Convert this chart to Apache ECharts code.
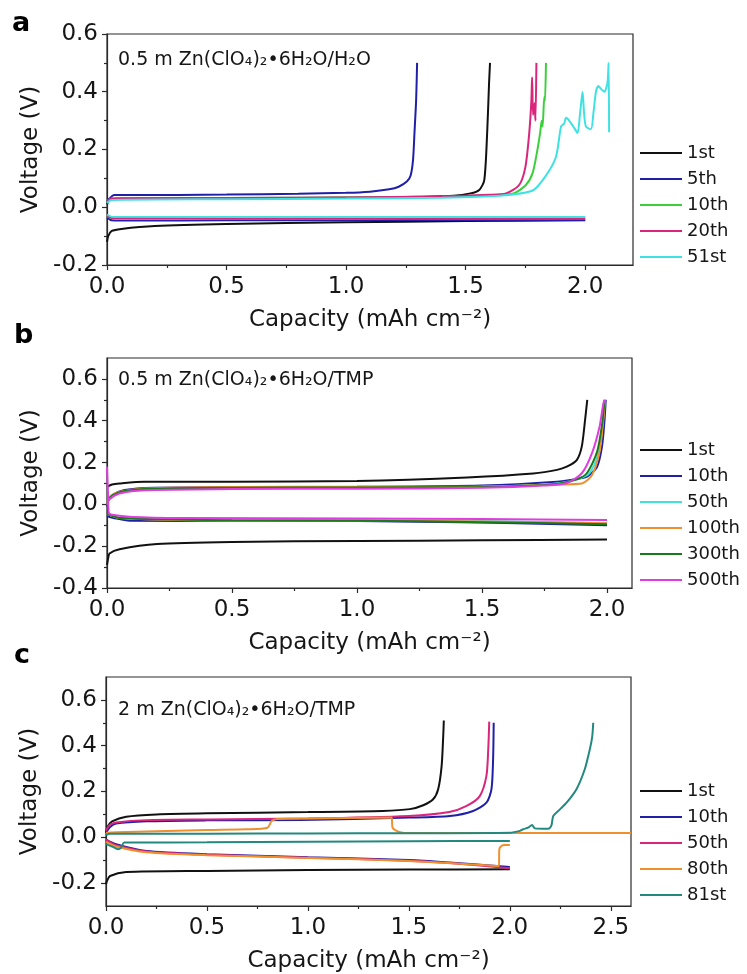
<!DOCTYPE html>
<html>
<head>
<meta charset="utf-8">
<script src="https://cdn.jsdelivr.net/npm/echarts@6/dist/echarts.min.js"></script>
<style>html,body{margin:0;padding:0;background:#fff}#c{width:747px;height:974px}</style>
</head>
<body>
<div id="c"></div>
<script>
// ---------- Panel a : 0.5 m Zn(ClO4)2·6H2O/H2O ----------
var aNames = ['1st', '5th', '10th', '20th', '51st'];
var a1stChg = [[0,0.01],[0.01,0.025],[0.05,0.03],[0.3,0.03],[0.8,0.032],[1.2,0.035],[1.45,0.04],[1.52,0.048],[1.557,0.06],[1.578,0.094],[1.59,0.257],[1.598,0.43],[1.602,0.5]];
var a1stDis = [[0,-0.12],[0.005,-0.1],[0.02,-0.082],[0.06,-0.075],[0.2,-0.065],[0.5,-0.058],[1.0,-0.052],[1.5,-0.048],[2.0,-0.045]];
var a5thChg = [[0,0.02],[0.01,0.03],[0.03,0.042],[0.1,0.042],[0.5,0.044],[0.8,0.047],[1.0,0.05],[1.1,0.054],[1.18,0.062],[1.22,0.071],[1.255,0.09],[1.27,0.11],[1.28,0.164],[1.286,0.257],[1.293,0.372],[1.297,0.5]];
var a5thDis = [[0,-0.035],[0.02,-0.045],[0.1,-0.046],[0.5,-0.045],[1.0,-0.045],[1.5,-0.044],[2.0,-0.044]];
var a10thChg = [[0,0.02],[0.02,0.03],[0.5,0.032],[1.0,0.034],[1.4,0.036],[1.6,0.042],[1.7,0.048],[1.752,0.077],[1.78,0.118],[1.8,0.198],[1.812,0.26],[1.818,0.3],[1.822,0.28],[1.829,0.383],[1.832,0.37],[1.836,0.5]];
var a10thDis = [[0,-0.03],[0.02,-0.038],[0.5,-0.039],[1.0,-0.039],[1.5,-0.039],[2.0,-0.039]];
var a20thChg = [[0,0.02],[0.02,0.03],[0.5,0.032],[1.0,0.034],[1.4,0.037],[1.6,0.043],[1.669,0.048],[1.724,0.077],[1.75,0.14],[1.766,0.257],[1.775,0.37],[1.778,0.45],[1.782,0.32],[1.788,0.36],[1.792,0.3],[1.796,0.5]];
var a20thDis = [[0,-0.03],[0.02,-0.037],[1.0,-0.038],[2.0,-0.038]];
var a51stChg = [[0,0.015],[0.02,0.025],[0.5,0.028],[1.0,0.03],[1.4,0.033],[1.64,0.04],[1.78,0.058],[1.836,0.11],[1.878,0.175],[1.899,0.28],[1.912,0.29],[1.92,0.31],[1.933,0.3],[1.954,0.275],[1.968,0.257],[1.978,0.32],[1.989,0.4],[1.995,0.33],[2.003,0.28],[2.024,0.27],[2.035,0.33],[2.045,0.4],[2.055,0.42],[2.066,0.41],[2.08,0.4],[2.093,0.43],[2.098,0.5],[2.1,0.26]];
var a51stDis = [[0,-0.025],[0.02,-0.033],[1.0,-0.034],[2.0,-0.034]];

// ---------- Panel b : 0.5 m Zn(ClO4)2·6H2O/TMP ----------
var bNames = ['1st', '10th', '50th', '100th', '300th', '500th'];
var b1stChg = [[0,0.084],[0.02,0.095],[0.05,0.1],[0.15,0.108],[0.5,0.108],[1.0,0.112],[1.44,0.129],[1.705,0.148],[1.8,0.165],[1.839,0.18],[1.879,0.212],[1.899,0.276],[1.912,0.4],[1.921,0.5]];
var b1stDis = [[0,-0.29],[0.005,-0.255],[0.01,-0.235],[0.05,-0.215],[0.2,-0.19],[0.5,-0.18],[1.0,-0.175],[1.5,-0.172],[2.0,-0.168]];
var b10thChg = [[0,-0.01],[0.01,0.03],[0.05,0.062],[0.15,0.078],[0.5,0.082],[1.0,0.084],[1.5,0.09],[1.8,0.108],[1.88,0.122],[1.92,0.132],[1.96,0.179],[1.98,0.276],[1.99,0.4],[1.995,0.5]];
var b10thDis = [[0,-0.055],[0.01,-0.06],[0.05,-0.07],[0.1,-0.078],[0.5,-0.08],[1.0,-0.08],[1.5,-0.087],[2.0,-0.1]];
var b50thChg = [[0,0.0],[0.01,0.03],[0.05,0.055],[0.15,0.072],[0.5,0.079],[1.0,0.081],[1.5,0.084],[1.8,0.1],[1.88,0.12],[1.93,0.15],[1.965,0.24],[1.982,0.38],[1.99,0.5]];
var b50thDis = [[0,-0.045],[0.05,-0.065],[0.5,-0.075],[1.0,-0.075],[1.5,-0.08],[2.0,-0.09]];
var b100thChg = [[0,0.0],[0.01,0.035],[0.05,0.06],[0.15,0.076],[0.5,0.083],[1.0,0.084],[1.5,0.085],[1.8,0.095],[1.9,0.1],[1.94,0.14],[1.97,0.25],[1.985,0.4],[1.992,0.5]];
var b100thDis = [[0,-0.045],[0.05,-0.065],[0.5,-0.078],[1.0,-0.078],[1.5,-0.082],[2.0,-0.09]];
var b300thChg = [[0,0.0],[0.01,0.03],[0.05,0.058],[0.15,0.074],[0.5,0.08],[1.0,0.081],[1.5,0.083],[1.8,0.098],[1.88,0.12],[1.92,0.15],[1.96,0.25],[1.98,0.38],[1.99,0.5]];
var b300thDis = [[0,-0.045],[0.05,-0.065],[0.5,-0.076],[1.0,-0.078],[1.5,-0.085],[2.0,-0.095]];
var b500thChg = [[0,0.0],[0.01,0.025],[0.05,0.052],[0.15,0.068],[0.5,0.073],[1.0,0.075],[1.5,0.079],[1.75,0.09],[1.84,0.102],[1.9,0.15],[1.94,0.245],[1.97,0.37],[1.985,0.48],[1.99,0.5]];
var b500thDis = [[0,0.18],[0.004,0.05],[0.007,-0.04],[0.02,-0.05],[0.1,-0.06],[0.3,-0.065],[1.0,-0.068],[1.5,-0.07],[2.0,-0.075]];

// ---------- Panel c : 2 m Zn(ClO4)2·6H2O/TMP ----------
var cNames = ['1st', '10th', '50th', '80th', '81st'];
var c1stChg = [[0,0.02],[0.01,0.05],[0.03,0.07],[0.1,0.09],[0.25,0.1],[0.5,0.105],[1.0,0.11],[1.37,0.115],[1.505,0.123],[1.571,0.14],[1.62,0.166],[1.645,0.21],[1.662,0.31],[1.67,0.44],[1.673,0.51]];
var c1stDis = [[0,-0.205],[0.005,-0.19],[0.02,-0.169],[0.1,-0.152],[0.5,-0.147],[1.0,-0.143],[1.5,-0.141],[2.0,-0.14]];
var c10thChg = [[0,0.02],[0.02,0.045],[0.05,0.06],[0.2,0.07],[0.5,0.074],[0.96,0.076],[1.5,0.086],[1.703,0.093],[1.818,0.115],[1.884,0.151],[1.909,0.21],[1.917,0.34],[1.92,0.5]];
var c10thDis = [[0,-0.01],[0.05,-0.03],[0.2,-0.06],[0.5,-0.074],[1.0,-0.087],[1.5,-0.099],[1.7,-0.11],[2.0,-0.13]];
var c50thChg = [[0,0.03],[0.02,0.055],[0.05,0.065],[0.2,0.075],[0.5,0.078],[1.0,0.082],[1.5,0.093],[1.7,0.11],[1.786,0.137],[1.851,0.18],[1.884,0.268],[1.893,0.384],[1.898,0.505]];
var c50thDis = [[0,-0.01],[0.05,-0.035],[0.2,-0.062],[0.5,-0.076],[1.0,-0.089],[1.5,-0.102],[1.7,-0.112],[2.0,-0.135]];
var c80thChg = [[0,0.02],[0.1,0.023],[0.5,0.032],[0.7,0.035],[0.8,0.042],[0.82,0.071],[0.85,0.08],[1.0,0.082],[1.414,0.086],[1.419,0.042],[1.439,0.028],[1.472,0.02],[2.0,0.019],[2.6,0.019]];
var c80thDis = [[0,-0.02],[0.05,-0.04],[0.2,-0.065],[0.5,-0.078],[1.0,-0.09],[1.5,-0.103],[1.946,-0.125],[1.948,-0.052],[1.958,-0.038],[1.975,-0.034],[2.0,-0.034]];
var c81stChg = [[0,0.01],[0.02,0.016],[0.5,0.016],[1.0,0.017],[1.5,0.018],[2.0,0.02],[2.05,0.028],[2.066,0.035],[2.09,0.042],[2.11,0.054],[2.124,0.039],[2.19,0.037],[2.206,0.052],[2.215,0.093],[2.248,0.122],[2.281,0.151],[2.33,0.21],[2.371,0.297],[2.396,0.384],[2.408,0.44],[2.413,0.5]];
var c81stDis = [[0,-0.03],[0.03,-0.04],[0.06,-0.052],[0.075,-0.045],[0.09,-0.023],[0.5,-0.022],[1.0,-0.019],[1.5,-0.017],[2.0,-0.016]];

// ---------- tick values ----------
var xMajorAB = [0, 0.5, 1.0, 1.5, 2.0];
var xMinorAB = [0.25, 0.75, 1.25, 1.75];
var xMajorC = [0, 0.5, 1.0, 1.5, 2.0, 2.5];
var xMinorC = [0.25, 0.75, 1.25, 1.75, 2.25];
var yMajorA = [-0.2, 0, 0.2, 0.4, 0.6];
var yMinorA = [-0.1, 0.1, 0.3, 0.5];
var yMajorB = [-0.4, -0.2, 0, 0.2, 0.4, 0.6];
var yMinorB = [-0.3, -0.1, 0.1, 0.3, 0.5];
var yMajorC = [-0.2, 0, 0.2, 0.4, 0.6];
var yMinorC = [-0.1, 0.1, 0.3, 0.5];

var FONT = 'DejaVu Sans';
var INK = '#161616';
var AX = '#2a2a2a';

var grids = [
  {left: 107, top: 34, width: 526, height: 231},
  {left: 107, top: 358, width: 525, height: 230},
  {left: 106, top: 677, width: 525, height: 230}
];
var ranges = [
  {x: [0, 2.2], y: [-0.2, 0.6], xM: xMajorAB, xm: xMinorAB, yM: yMajorA, ym: yMinorA},
  {x: [0, 2.1], y: [-0.4, 0.7], xM: xMajorAB, xm: xMinorAB, yM: yMajorB, ym: yMinorB},
  {x: [0, 2.6], y: [-0.3, 0.7], xM: xMajorC, xm: xMinorC, yM: yMajorC, ym: yMinorC}
];

var xAxes = [], yAxes = [];
ranges.forEach(function (r, i) {
  xAxes.push({
    type: 'value', gridIndex: i, min: r.x[0], max: r.x[1], position: 'bottom',
    axisLine: {show: true, onZero: false, lineStyle: {color: AX, width: 1.2}},
    axisTick: {show: true, customValues: r.xM, length: 5, lineStyle: {color: AX, width: 1.2}},
    axisLabel: {show: true, customValues: r.xM, margin: 11, color: INK, fontFamily: FONT, fontSize: 23,
      formatter: function (v) { return v.toFixed(1); }},
    splitLine: {show: false},
    name: 'Capacity (mAh cm\u207B\u00B2)', nameLocation: 'middle', nameGap: 44,
    nameTextStyle: {color: INK, fontFamily: FONT, fontSize: 23}
  });
  xAxes.push({
    type: 'value', gridIndex: i, min: r.x[0], max: r.x[1], position: 'bottom',
    axisLine: {show: false, onZero: false},
    axisTick: {show: true, customValues: r.xm, length: 3, lineStyle: {color: AX, width: 1.2}},
    axisLabel: {show: false}, splitLine: {show: false}
  });
  yAxes.push({
    type: 'value', gridIndex: i, min: r.y[0], max: r.y[1], position: 'left',
    axisLine: {show: true, onZero: false, lineStyle: {color: AX, width: 1.2}},
    axisTick: {show: true, customValues: r.yM, length: 5, lineStyle: {color: AX, width: 1.2}},
    axisLabel: {show: true, customValues: r.yM, margin: 9, color: INK, fontFamily: FONT, fontSize: 23,
      formatter: function (v) { return v.toFixed(1); }},
    splitLine: {show: false},
    name: 'Voltage (V)', nameLocation: 'middle', nameGap: 62,
    nameTextStyle: {color: INK, fontFamily: FONT, fontSize: 23}
  });
  yAxes.push({
    type: 'value', gridIndex: i, min: r.y[0], max: r.y[1], position: 'left',
    axisLine: {show: false, onZero: false},
    axisTick: {show: true, customValues: r.ym, length: 3, lineStyle: {color: AX, width: 1.2}},
    axisLabel: {show: false}, splitLine: {show: false}
  });
});

var series = [];
function add(panel, name, color, chg, dis) {
  var gi = panel;
  [dis, chg].forEach(function (d) {
    series.push({
      type: 'line', name: 'p' + panel + ':' + name, data: d,
      xAxisIndex: gi * 2, yAxisIndex: gi * 2, symbol: 'none', showSymbol: false,
      smooth: 0.25,
      lineStyle: {color: color, width: 2}, itemStyle: {color: color},
      animation: false, clip: true
    });
  });
}
var NAVY = '#1f1fa8', BLACK = '#111111';
add(0, aNames[0], BLACK, a1stChg, a1stDis);
add(0, aNames[1], NAVY, a5thChg, a5thDis);
add(0, aNames[2], '#3ccf3c', a10thChg, a10thDis);
add(0, aNames[3], '#d9267a', a20thChg, a20thDis);
add(0, aNames[4], '#3fe2e2', a51stChg, a51stDis);

add(1, bNames[0], BLACK, b1stChg, b1stDis);
add(1, bNames[1], NAVY, b10thChg, b10thDis);
add(1, bNames[2], '#3fe2e2', b50thChg, b50thDis);
add(1, bNames[3], '#ef8f2e', b100thChg, b100thDis);
add(1, bNames[4], '#1a7a1a', b300thChg, b300thDis);
add(1, bNames[5], '#e03de0', b500thChg, b500thDis);

add(2, cNames[0], BLACK, c1stChg, c1stDis);
add(2, cNames[1], NAVY, c10thChg, c10thDis);
add(2, cNames[2], '#d9267a', c50thChg, c50thDis);
add(2, cNames[3], '#ef8f2e', c80thChg, c80thDis);
add(2, cNames[4], '#23887e', c81stChg, c81stDis);

function legend(panel, names, top) {
  return {
    orient: 'vertical', left: 640, top: top, itemWidth: 42, itemHeight: 2, itemGap: 8,
    icon: 'rect', selectedMode: false, padding: 0,
    data: names.map(function (n) { return 'p' + panel + ':' + n; }),
    formatter: function (n) { return n.split(':')[1]; },
    textStyle: {color: INK, fontFamily: FONT, fontSize: 18, padding: [0, 0, 0, 0]}
  };
}

function letter(txt, x, y) {
  return {type: 'text', left: x, top: y,
    style: {text: txt, fill: '#000', font: 'bold 27px "DejaVu Sans"'}};
}

var chart = echarts.init(document.getElementById('c'), null, {renderer: 'canvas'});
chart.setOption({
  backgroundColor: '#fff',
  animation: false,
  grid: grids.map(function (g) {
    return Object.assign({show: true, borderColor: AX, borderWidth: 1.2, backgroundColor: 'transparent', containLabel: false}, g);
  }),
  xAxis: xAxes,
  yAxis: yAxes,
  legend: [legend(0, aNames, 144), legend(1, bNames, 441), legend(2, cNames, 782)],
  series: series,
  graphic: [
    {type: 'text', left: 118, top: 51, style: {text: '0.5 m Zn(ClO\u2084)\u2082\u20226H\u2082O/H\u2082O', fill: INK, font: '19px "DejaVu Sans"'}},
    {type: 'text', left: 118, top: 371, style: {text: '0.5 m Zn(ClO\u2084)\u2082\u20226H\u2082O/TMP', fill: INK, font: '19px "DejaVu Sans"'}},
    {type: 'text', left: 118, top: 701, style: {text: '2 m Zn(ClO\u2084)\u2082\u20226H\u2082O/TMP', fill: INK, font: '19px "DejaVu Sans"'}},
    letter('a', 12, 10),
    letter('b', 14, 322),
    letter('c', 14, 642)
  ]
});
</script>
</body>
</html>
